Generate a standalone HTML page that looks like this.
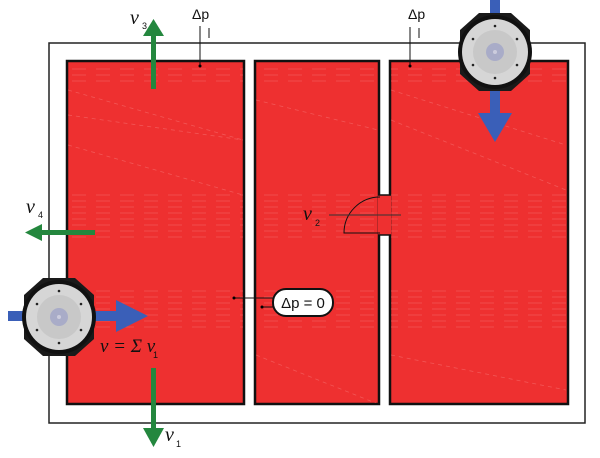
<!DOCTYPE html>
<html><head><meta charset="utf-8"><style>
html,body{margin:0;padding:0;background:#fff;width:600px;height:458px;overflow:hidden}
svg{display:block}
text{font-family:"Liberation Sans",sans-serif}
.it{font-family:"Liberation Serif",serif;font-style:italic}
</style></head><body>
<svg width="600" height="458" viewBox="0 0 600 458" xmlns="http://www.w3.org/2000/svg">
<defs>
<pattern id="st" width="600" height="6" patternUnits="userSpaceOnUse">
<line x1="0" y1="3" x2="600" y2="3" stroke="#f26060" stroke-width="1" stroke-dasharray="14 10"/>
</pattern>
<clipPath id="rooms">
<rect x="68" y="62" width="175" height="341"/>
<rect x="256" y="62" width="122" height="341"/>
<rect x="391" y="62" width="176" height="341"/>
</clipPath>
<g id="fan">
<polygon points="-16,-39 16,-39 35,-22 35,22 16,39 -16,39 -35,22 -35,-22" fill="#1a1a1a"/>
<circle r="37" fill="#111"/>
<circle r="33" fill="#d6d6d6"/>
<circle r="22" fill="#c8c8c8"/>
<circle r="9" fill="#a9acc8"/>
<circle r="2" fill="#ccd"/>
<g fill="#222">
<circle cx="0" cy="-26" r="1.3"/><circle cx="0" cy="26" r="1.3"/>
<circle cx="-22" cy="-13" r="1.3"/><circle cx="22" cy="-13" r="1.3"/>
<circle cx="-22" cy="13" r="1.3"/><circle cx="22" cy="13" r="1.3"/>
</g>
</g>
</defs>
<rect x="49" y="43" width="536" height="380" fill="#fff" stroke="#222" stroke-width="1.5"/>
<g stroke="#111" stroke-width="2.5">
<rect x="67" y="61" width="177" height="343" fill="#ee3030"/>
<rect x="255" y="61" width="124" height="343" fill="#ee3030"/>
<rect x="390" y="61" width="178" height="343" fill="#ee3030"/>
</g>
<g opacity="0.6" clip-path="url(#rooms)">
<rect x="68" y="190" width="499" height="50" fill="url(#st)"/>
<rect x="68" y="290" width="499" height="40" fill="url(#st)"/>
<rect x="68" y="66" width="499" height="20" fill="url(#st)"/>
<g stroke="#f57070" stroke-width="0.8" stroke-dasharray="4 4" fill="none">
<line x1="68" y1="90" x2="243" y2="140"/><line x1="68" y1="115" x2="243" y2="140"/>
<line x1="68" y1="145" x2="243" y2="195"/><line x1="256" y1="100" x2="378" y2="130"/>
<line x1="391" y1="90" x2="566" y2="145"/><line x1="391" y1="120" x2="566" y2="190"/>
<line x1="256" y1="355" x2="378" y2="404"/><line x1="391" y1="355" x2="566" y2="390"/>
</g>
</g>
<!-- door -->
<rect x="378" y="195" width="13" height="40" fill="#ee3030"/>
<line x1="378" y1="195" x2="391" y2="195" stroke="#111" stroke-width="1.5"/>
<line x1="378" y1="235" x2="391" y2="235" stroke="#111" stroke-width="1.5"/>
<path d="M380,197 A36,36 0 0 0 344,233 L380,233" fill="none" stroke="#111" stroke-width="1"/>
<line x1="329" y1="215" x2="401" y2="215" stroke="#333" stroke-width="1"/>
<!-- blue arrows -->
<rect x="8" y="311" width="110" height="10" fill="#3a5fb8"/>
<polygon points="116,300 148,316 116,332" fill="#3a5fb8"/>
<rect x="490" y="0" width="10" height="115" fill="#3a5fb8"/>
<polygon points="478,113 512,113 495,142" fill="#3a5fb8"/>
<use href="#fan" x="59" y="317"/>
<use href="#fan" x="495" y="52"/>
<!-- green arrows -->
<g fill="#24873e">
<rect x="151" y="36" width="5" height="53"/><polygon points="143,36 164,36 153.5,19"/>
<rect x="42" y="230" width="53" height="5"/><polygon points="42,224 42,241 25,232.5"/>
<rect x="151" y="368" width="5" height="62"/><polygon points="143,428 164,428 153.5,447"/>
</g>
<!-- labels -->
<g fill="#111">
<text x="130" y="24" class="it" font-size="20">v</text><text x="142" y="29" font-size="9">3</text>
<text x="26" y="213" class="it" font-size="20">v</text><text x="38" y="218" font-size="9">4</text>
<text x="303" y="220" class="it" font-size="20">v</text><text x="315" y="226" font-size="9">2</text>
<text x="100" y="352" class="it" font-size="19">v = Σ v</text><text x="153" y="358" font-size="9">1</text>
<text x="165" y="441" class="it" font-size="20">v</text><text x="176" y="447" font-size="9">1</text>
<text x="192" y="19" font-size="14">Δp</text>
<text x="408" y="19" font-size="14">Δp</text>
</g>
<g stroke="#111" stroke-width="1">
<line x1="200" y1="26" x2="200" y2="66"/><line x1="209" y1="28" x2="209" y2="38"/>
<line x1="410" y1="27" x2="410" y2="66"/><line x1="419" y1="28" x2="419" y2="38"/>
<line x1="234" y1="298" x2="273" y2="298"/><line x1="262" y1="307" x2="273" y2="307"/>
</g>
<circle cx="200" cy="66" r="1.5"/><circle cx="410" cy="66" r="1.5"/>
<circle cx="234" cy="298" r="1.5"/><circle cx="262" cy="307" r="1.5"/>
<rect x="273" y="289" width="60" height="27" rx="13" fill="#fff" stroke="#111" stroke-width="2"/>
<text x="303" y="308" font-size="15" text-anchor="middle" fill="#111">Δp = 0</text>
</svg>
</body></html>
